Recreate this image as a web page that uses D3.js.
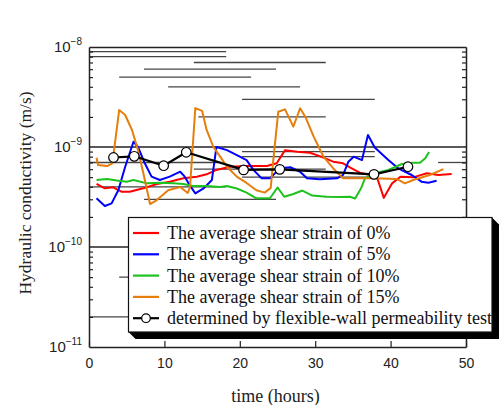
<!DOCTYPE html>
<html>
<head>
<meta charset="utf-8">
<script src="https://cdn.jsdelivr.net/npm/d3@7"></script>
<style>
  body { margin: 0; background: #fff; }
  svg { display: block; }
</style>
</head>
<body>
<div id="chart"></div>
<script>
// time (hours), hydraulic conductivity (m/s)
const strain0 = [
    [1.0, 4.27e-10], [2.1, 3.86e-10], [3.2, 3.95e-10], [4.3, 3.57e-10], [5.4, 3.57e-10],
    [7.2, 3.86e-10], [9.0, 4.27e-10], [10.7, 4.5e-10], [12.5, 4.86e-10], [14.3, 5.05e-10],
    [15.6, 5.33e-10], [16.9, 5.9e-10], [18.7, 6.35e-10], [20.9, 6.45e-10], [23.6, 6.45e-10],
    [24.9, 6.87e-10], [26.0, 9.3e-10], [27.6, 8.97e-10], [29.3, 8.77e-10], [30.6, 8.1e-10],
    [32.4, 7.13e-10], [33.7, 6.87e-10], [34.6, 6.27e-10], [35.9, 5.54e-10], [37.3, 5.25e-10],
    [38.2, 4.95e-10], [39.1, 3.1e-10], [40.2, 4.33e-10], [41.3, 5.05e-10], [43.0, 4.97e-10],
    [44.8, 5.46e-10], [46.3, 5.25e-10], [48.1, 5.37e-10]
];
const strain5 = [
    [1.0, 3.07e-10], [2.1, 2.57e-10], [3.0, 2.73e-10], [3.9, 3.72e-10], [4.8, 6.35e-10],
    [5.9, 1.13e-9], [6.5, 1.0e-9], [7.4, 6.87e-10], [8.3, 5.05e-10], [9.4, 4.68e-10],
    [10.7, 5.05e-10], [12.1, 5.66e-10], [12.7, 5.05e-10], [13.2, 4.33e-10], [14.1, 3.44e-10],
    [15.2, 3.86e-10], [16.3, 4.68e-10], [16.9, 1.0e-9], [18.3, 9.3e-10], [20.0, 8.0e-10],
    [20.9, 7.4e-10], [21.8, 5.9e-10], [22.9, 4.86e-10], [24.0, 4.86e-10], [25.3, 6.12e-10],
    [26.7, 6.27e-10], [28.0, 5.66e-10], [28.9, 4.86e-10], [30.6, 4.75e-10], [32.9, 4.86e-10],
    [33.7, 5.25e-10], [34.4, 7.13e-10], [35.1, 8.0e-10], [36.2, 7.4e-10], [37.0, 1.32e-9],
    [37.9, 9.9e-10], [39.7, 7.4e-10], [41.0, 6.12e-10], [42.8, 5.25e-10], [44.1, 4.5e-10],
    [45.0, 4.4e-10], [46.1, 4.6e-10]
];
const strain10 = [
    [1.0, 4.68e-10], [2.4, 4.79e-10], [3.7, 4.62e-10], [5.0, 4.5e-10], [5.9, 4.68e-10],
    [7.7, 4.33e-10], [9.4, 4.4e-10], [11.2, 4.33e-10], [12.5, 4.27e-10], [13.8, 4.07e-10],
    [15.6, 4.07e-10], [17.4, 3.98e-10], [18.3, 4.07e-10], [19.6, 3.85e-10], [20.9, 3.5e-10],
    [22.2, 3.07e-10], [24.0, 3.07e-10], [25.0, 3.94e-10], [25.9, 3.18e-10], [27.1, 3.39e-10],
    [28.3, 3.67e-10], [29.6, 3.27e-10], [31.5, 3.18e-10], [33.3, 3.16e-10], [34.6, 3.18e-10],
    [35.3, 3.05e-10], [36.1, 3.9e-10], [36.6, 4.86e-10], [37.9, 5.46e-10], [39.7, 5.9e-10],
    [41.5, 6.76e-10], [43.0, 6.97e-10], [43.9, 6.97e-10], [44.6, 7.7e-10], [45.1, 8.9e-10]
];
const strain15 = [
    [1.0, 7.8e-10], [1.2, 6.6e-10], [2.4, 6.45e-10], [3.1, 6.87e-10], [4.0, 2.34e-9],
    [4.8, 2.09e-9], [5.7, 1.48e-9], [6.5, 9.3e-10], [7.2, 5.5e-10], [8.1, 2.69e-10],
    [9.0, 2.95e-10], [10.5, 3.7e-10], [12.1, 3.98e-10], [13.1, 3.47e-10], [13.4, 3.98e-10],
    [14.1, 2.45e-9], [15.0, 2.3e-9], [15.6, 1.48e-9], [16.5, 1.0e-9], [17.4, 8.0e-10],
    [18.3, 6.35e-10], [19.6, 5.05e-10], [20.9, 4.37e-10], [22.2, 3.7e-10], [23.3, 3.5e-10],
    [24.1, 3.9e-10], [24.4, 6.9e-10], [25.1, 2.25e-9], [26.0, 2.38e-9], [27.1, 1.6e-9],
    [28.0, 2.44e-9], [28.7, 2.0e-9], [29.8, 1.27e-9], [31.1, 8.0e-10], [32.4, 6.1e-10],
    [33.7, 4.86e-10], [35.1, 4.86e-10], [37.7, 4.86e-10], [40.8, 4.8e-10], [41.9, 4.33e-10],
    [43.0, 4.68e-10], [45.2, 5.25e-10], [47.0, 6.0e-10]
];
const flexibleWall = [
    [3.25, 7.85e-10], [6.0, 8.07e-10], [9.9, 6.5e-10], [12.9, 8.85e-10],
    [20.5, 5.9e-10], [25.3, 5.98e-10], [37.8, 5.33e-10], [42.3, 6.35e-10]
];
// horizontal rule segments left in the figure: [t start, t end, K]
const ruleSegments = [
    [0, 18.2, 9e-9], [0, 18.2, 8e-9], [13.9, 31.4, 7e-9], [7.3, 24.8, 6e-9],
    [4.0, 21.5, 5e-9], [10.5, 28.0, 4e-9], [20.3, 37.9, 3e-9], [14.5, 31.4, 2e-9],
    [0, 50, 1e-9],
    [20.3, 37.9, 9e-10], [20.3, 37.9, 8e-10], [0, 17.5, 7e-10], [46.3, 50, 7e-10],
    [13.9, 31.4, 6e-10], [20.3, 37.9, 5e-10], [0, 18.2, 4e-10], [7.3, 24.8, 3e-10],
    [0, 50, 1e-10],
    [4.0, 21.5, 5e-11], [0, 18.2, 2e-11]
];
const xTicks = [0, 10, 20, 30, 40, 50];
const decades = [-8, -9, -10, -11];

const series = [
    {label: "The average shear strain of 0%", data: strain0, color: "#ff0000"},
    {label: "The average shear strain of 5%", data: strain5, color: "#0000ff"},
    {label: "The average shear strain of 10%", data: strain10, color: "#1ec21e"},
    {label: "The average shear strain of 15%", data: strain15, color: "#e67e0c"},
    {label: "determined by flexible-wall permeability test", data: flexibleWall, color: "#000", marker: true}
];

const width = 504, height = 405;
const serif = "'Liberation Serif', 'Times New Roman', serif";
const sans = "'Liberation Sans', Arial, sans-serif";

const x = d3.scaleLinear().domain([0, 50]).range([89, 466]);
const y = d3.scaleLog().domain([1e-11, 1e-8]).range([347, 47]);

const svg = d3.select("#chart").append("svg")
    .attr("width", width)
    .attr("height", height);

// rules
svg.append("g")
    .selectAll("line")
    .data(ruleSegments)
    .join("line")
    .attr("x1", d => x(d[0]))
    .attr("x2", d => x(d[1]))
    .attr("y1", d => y(d[2]))
    .attr("y2", d => y(d[2]))
    .attr("stroke", d => d[2] === 1e-9 || d[2] === 1e-10 ? "#222" : "#444")
    .attr("stroke-width", 1.3);

// minor tick values
const minorTicks = [];
for (let e = -11; e < -8; e++) {
    for (let m = 2; m <= 9; m++) minorTicks.push(m * Math.pow(10, e));
}

function styleAxis(g) {
    g.selectAll(".domain").attr("stroke", "#222").attr("stroke-width", 1.5);
    g.selectAll(".tick line").attr("stroke", "#222").attr("stroke-width", 1.2);
}

svg.append("g")
    .attr("transform", "translate(89,0)")
    .call(d3.axisLeft(y).tickValues(minorTicks).tickSize(-4).tickSizeOuter(0).tickFormat(""))
    .call(styleAxis);

svg.append("g")
    .attr("transform", "translate(466,0)")
    .call(d3.axisRight(y).tickValues(minorTicks).tickSize(-4).tickSizeOuter(0).tickFormat(""))
    .call(styleAxis);

svg.append("g")
    .attr("transform", "translate(0,47)")
    .call(d3.axisTop(x).tickValues([]).tickSizeOuter(0))
    .call(styleAxis);

svg.append("g")
    .attr("transform", "translate(0,347)")
    .call(d3.axisBottom(x).tickValues(xTicks).tickSize(-6).tickSizeOuter(0).tickPadding(11))
    .call(styleAxis)
    .call(g => g.selectAll(".tick text")
        .attr("font-family", sans)
        .attr("font-size", 14)
        .attr("fill", "#222"));

// decade labels 10^n
const yLabels = svg.append("g")
    .selectAll("text")
    .data(decades)
    .join("text")
    .attr("x", 82)
    .attr("y", d => y(Math.pow(10, d)) + 5)
    .attr("text-anchor", "end")
    .attr("font-family", sans)
    .attr("fill", "#222");
yLabels.append("tspan").attr("font-size", 15).text("10");
yLabels.append("tspan").attr("font-size", 10).attr("dy", -7).text(d => "\u2212" + (-d));

// axis titles
svg.append("text")
    .attr("x", x(25) - 2)
    .attr("y", 402)
    .attr("text-anchor", "middle")
    .attr("font-family", serif)
    .attr("font-size", 18)
    .attr("fill", "#222")
    .text("time (hours)");

svg.append("text")
    .attr("transform", "translate(31,193) rotate(-90)")
    .attr("text-anchor", "middle")
    .attr("font-family", serif)
    .attr("font-size", 17.5)
    .attr("fill", "#222")
    .text("Hydraulic conductivity (m/s)");

// series
const line = d3.line().x(d => x(d[0])).y(d => y(d[1]));
const plot = svg.append("g");
series.forEach(s => {
    plot.append("path")
        .datum(s.data)
        .attr("fill", "none")
        .attr("stroke", s.color)
        .attr("stroke-width", s.marker ? 2.2 : 2)
        .attr("stroke-linejoin", "round")
        .attr("d", line);
    if (s.marker) {
        plot.selectAll(".marker")
            .data(s.data)
            .join("circle")
            .attr("class", "marker")
            .attr("cx", d => x(d[0]))
            .attr("cy", d => y(d[1]))
            .attr("r", 4.8)
            .attr("fill", "#fff")
            .attr("stroke", "#000")
            .attr("stroke-width", 1.2);
    }
});

// legend with drop shadow
const lg = {x0: 128.5, x1: 492, y0: 217.5, y1: 332, off: 7};
svg.append("path")
    .attr("d", `M${lg.x1},${lg.y0} L${lg.x1 + lg.off},${lg.y0 + lg.off} L${lg.x1 + lg.off},${lg.y1 + lg.off} L${lg.x0 + lg.off},${lg.y1 + lg.off} L${lg.x0},${lg.y1} Z`)
    .attr("fill", "#000");
svg.append("rect")
    .attr("x", lg.x0)
    .attr("y", lg.y0)
    .attr("width", lg.x1 - lg.x0)
    .attr("height", lg.y1 - lg.y0)
    .attr("fill", "#fff")
    .attr("stroke", "#111")
    .attr("stroke-width", 1.2);

const rows = svg.append("g")
    .selectAll("g")
    .data(series)
    .join("g")
    .attr("transform", (d, i) => `translate(0,${233 + i * 21.3})`);
rows.append("line")
    .attr("x1", 133).attr("x2", 159)
    .attr("stroke", d => d.color)
    .attr("stroke-width", 2.2);
rows.filter(d => d.marker).append("circle")
    .attr("cx", 146).attr("r", 4.3)
    .attr("fill", "#fff").attr("stroke", "#000").attr("stroke-width", 1.2);
rows.append("text")
    .attr("x", 167)
    .attr("dy", "0.34em")
    .attr("font-family", serif)
    .attr("font-size", 18)
    .attr("fill", "#111")
    .text(d => d.label);
</script>
</body>
</html>
